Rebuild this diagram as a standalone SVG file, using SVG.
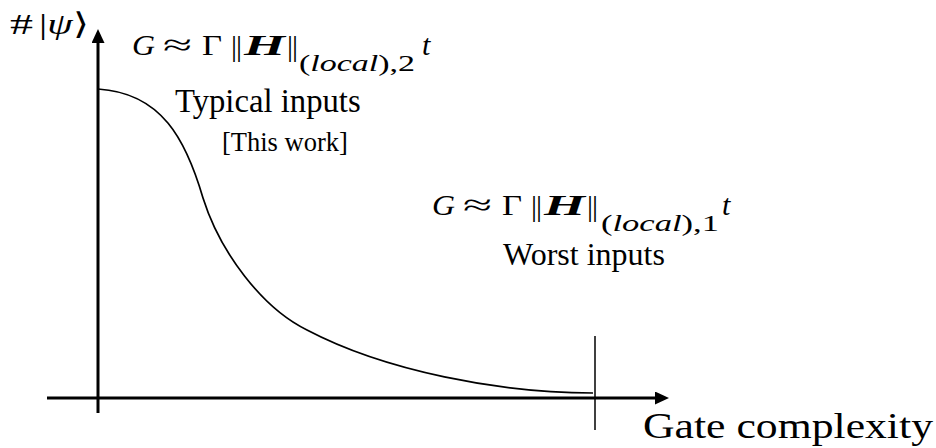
<svg xmlns="http://www.w3.org/2000/svg" width="936" height="448" viewBox="0 0 936 448">
<style>
  .axis { stroke: #000; stroke-width: 3; fill: none; }
  .tick { stroke: #000; stroke-width: 1.5; fill: none; }
  .curve { stroke: #000; stroke-width: 1.7; fill: none; }
</style>
<defs>
  <marker id="arr" markerUnits="userSpaceOnUse" markerWidth="15" markerHeight="14" refX="0" refY="6.5" orient="auto">
    <path d="M0,0 L14,6.5 L0,13 z" fill="#000"/>
  </marker>
  <g id="formulaBase" font-family="Liberation Serif" font-size="30" fill="#000">
    <text x="-1" y="0" font-style="italic" textLength="23" lengthAdjust="spacingAndGlyphs">G</text>
    <text x="30" y="0" textLength="29" lengthAdjust="spacingAndGlyphs">≈</text>
    <text x="69" y="0" textLength="20" lengthAdjust="spacingAndGlyphs">Γ</text>
    <text x="98" y="1">|</text>
    <text x="103" y="1">|</text>
    <text x="111" y="0" font-style="italic" font-weight="bold" textLength="41" lengthAdjust="spacingAndGlyphs">H</text>
    <text x="154" y="1">|</text>
    <text x="159" y="1">|</text>
    <text x="289" y="0" font-style="italic">t</text>
  </g>
</defs>

<g id="connectors">
  <line class="axis" x1="98" y1="413" x2="98" y2="43" marker-end="url(#arr)"/>
  <line class="axis" x1="47" y1="398" x2="655" y2="398" marker-end="url(#arr)"/>
  <line class="tick" x1="595" y1="336" x2="595" y2="430"/>
  <path class="curve" d="M98,89 C162,93 186,140 203,198 C220,252 262,308 307,330 C385,371 500,393 593,393"/>
</g>

<g id="ylabel" font-family="Liberation Serif" font-size="30" fill="#000">
  <text x="10" y="34" textLength="23" lengthAdjust="spacingAndGlyphs">#</text>
  <text x="39" y="34" textLength="50" lengthAdjust="spacingAndGlyphs">|<tspan font-style="italic">ψ</tspan>⟩</text>
</g>

<g id="formula-typical" transform="translate(133,55)" font-family="Liberation Serif" fill="#000">
  <use href="#formulaBase"/>
  <text x="166" y="16" font-size="24" textLength="116" lengthAdjust="spacingAndGlyphs">(<tspan font-style="italic">local</tspan>),2</text>
</g>

<g id="typical-inputs" font-family="Liberation Serif" fill="#000">
  <text x="175" y="112" font-size="32.7">Typical inputs</text>
  <text x="222" y="151" font-size="26.5">[This work]</text>
</g>

<g id="formula-worst" transform="translate(433,215)" font-family="Liberation Serif" fill="#000">
  <use href="#formulaBase"/>
  <text x="168" y="16" font-size="24" textLength="118" lengthAdjust="spacingAndGlyphs">(<tspan font-style="italic">local</tspan>),1</text>
</g>

<g id="worst-inputs" font-family="Liberation Serif" fill="#000">
  <text x="503" y="265" font-size="32">Worst inputs</text>
</g>

<g id="xlabel" font-family="Liberation Serif" fill="#000">
  <text x="643" y="438" font-size="36" textLength="290" lengthAdjust="spacingAndGlyphs">Gate complexity</text>
</g>
</svg>
